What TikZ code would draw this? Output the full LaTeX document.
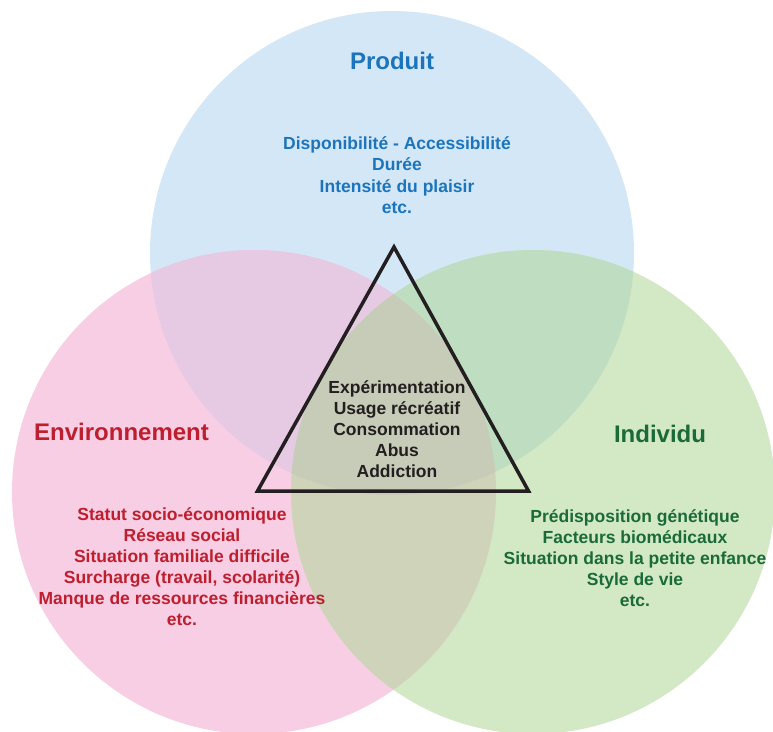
\documentclass[tikz,border=0pt]{standalone}
\usepackage{fontspec}
\setmainfont{Liberation Sans}
\definecolor{blueC}{HTML}{D3E7F6}
\definecolor{pinkC}{HTML}{F7CEE4}
\definecolor{greenC}{HTML}{D3E8C5}
\definecolor{pbC}{HTML}{E6C9E2}
\definecolor{bgC}{HTML}{BFDEC1}
\definecolor{pgC}{HTML}{CED3B9}
\definecolor{pbgC}{HTML}{C7CCB8}
\definecolor{blueT}{HTML}{1C75BC}
\definecolor{redT}{HTML}{BE1E2D}
\definecolor{greenT}{HTML}{1A6B38}
\definecolor{darkT}{HTML}{231F20}
\begin{document}
\begin{tikzpicture}[x=1pt,y=-1pt,
  title/.style={anchor=base,inner sep=0pt,font=\fontsize{24}{28}\selectfont\bfseries},
  item/.style={anchor=base,inner sep=0pt,font=\fontsize{17.5}{21}\selectfont\bfseries}]
\useasboundingbox (0,0) rectangle (773,731);
\coordinate (B) at (392,253);
\coordinate (P) at (254,492);
\coordinate (G) at (533,492);
% circles
\fill[blueC] (B) circle (242pt);
\fill[pinkC] (P) circle (242pt);
\fill[greenC] (G) circle (242pt);
\begin{scope}\clip (B) circle (242pt); \fill[pbC] (P) circle (242pt); \end{scope}
\begin{scope}\clip (B) circle (242pt); \fill[bgC] (G) circle (242pt); \end{scope}
\begin{scope}\clip (P) circle (242pt); \fill[pgC] (G) circle (242pt); \end{scope}
\begin{scope}\clip (B) circle (242pt); \clip (P) circle (242pt); \fill[pbgC] (G) circle (242pt); \end{scope}
% triangle
\coordinate (T1) at (394,247);
\coordinate (T2) at (257.5,491);
\coordinate (T3) at (528.5,491);
\draw[darkT,line width=3.5pt,line join=miter] (T1) -- (T2) -- (T3) -- cycle;
% titles
\node[title,text=blueT] (produit) at (392,69) {Produit};
\node[title,text=redT] (environnement) at (121.5,440) {Environnement};
\node[title,text=greenT] (individu) at (660,442) {Individu};
% lists
\foreach \t [count=\i] in {Disponibilité - Accessibilité,Durée,Intensité du plaisir,etc.}
  \node[item,text=blueT] (prod\i) at (397,{149+21.5*(\i-1)}) {\t};
\foreach \t [count=\i] in {Statut socio-économique,Réseau social,Situation familiale difficile,{Surcharge (travail, scolarité)},Manque de ressources financières,etc.}
  \node[item,text=redT] (env\i) at (182,{520+21*(\i-1)}) {\t};
\foreach \t [count=\i] in {Prédisposition génétique,Facteurs biomédicaux,Situation dans la petite enfance,Style de vie,etc.}
  \node[item,text=greenT] (ind\i) at (635,{522+21*(\i-1)}) {\t};
\foreach \t [count=\i] in {Expérimentation,Usage récréatif,Consommation,Abus,Addiction}
  \node[item,text=darkT] (tri\i) at (397,{393+21*(\i-1)}) {\t};
\end{tikzpicture}
\end{document}
